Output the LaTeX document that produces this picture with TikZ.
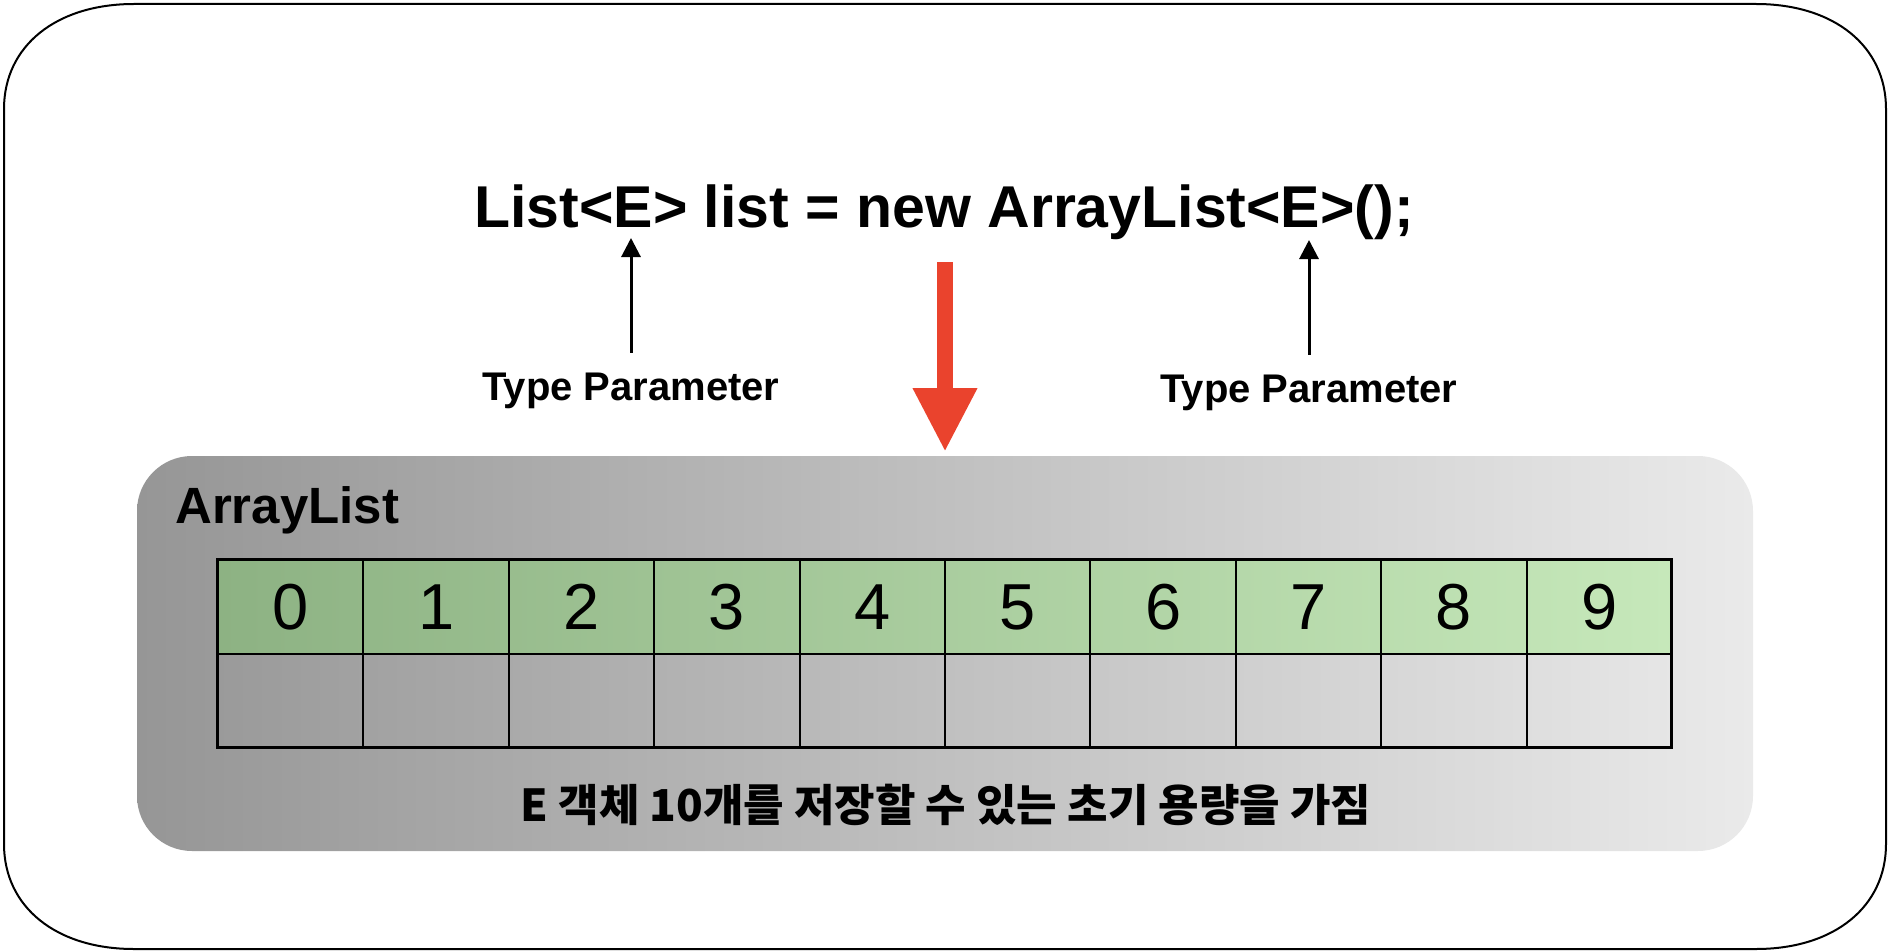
\documentclass[tikz,border=0pt]{standalone}
\usepackage{fontspec}
\setmainfont{Liberation Sans}
\newfontfamily\krfont{Noto Sans CJK KR}
\usetikzlibrary{arrows.meta}
\definecolor{redarrow}{RGB}{234,67,45}
\definecolor{grayL}{RGB}{150,150,150}
\definecolor{grayR}{RGB}{234,234,234}
\definecolor{greenL}{RGB}{141,178,131}
\definecolor{greenR}{RGB}{198,232,186}
\tikzset{
  cellbox/.style={draw=black, line width=2, minimum width=145.4, minimum height=94, inner sep=0, anchor=north west, font=\fontsize{65}{70}\selectfont},
  tplabel/.style={font=\bfseries\fontsize{40}{44}\selectfont, text height=28, text depth=8, inner xsep=0, inner ysep=19, anchor=base},
  tparrow/.style={line width=3, -{Triangle[width=19,length=19]}},
}
\begin{document}
\begin{tikzpicture}[x=1pt,y=-1pt]
\useasboundingbox (0,0) rectangle (1890,952);
% outer frame
\draw[line width=2] (4,109) .. controls (4,46) and (56,4) .. (134,4) -- (1756,4)
  .. controls (1834,4) and (1886,46) .. (1886,109) -- (1886,844)
  .. controls (1886,907) and (1834,949) .. (1756,949) -- (134,949)
  .. controls (56,949) and (4,907) .. (4,844) -- cycle;
% ArrayList box
\node[rectangle, rounded corners=55, left color=grayL, right color=grayR, minimum width=1616, minimum height=395, inner sep=0] (arr) at (945,653.5) {};
\node[anchor=base west, inner sep=0, font=\bfseries\fontsize{51}{56}\selectfont] (arrlbl) at (175,523) {ArrayList};
% green row
\shade[left color=greenL, right color=greenR] (217,559) rectangle (1671,653);
\foreach \i in {0,...,9} {
  \node[cellbox] (c\i) at (217+145.4*\i,559) {\i};
  \node[cellbox] (e\i) at (217+145.4*\i,653) {};
}
\draw[line width=3] (217,559) rectangle (1671,747);
% title
\node[anchor=base, inner sep=0, font=\bfseries\fontsize{59}{66}\selectfont] (title) at (944,228) {List<E> list = new ArrayList<E>();};
% type parameter labels and arrows
\coordinate (e1) at (631,238);
\coordinate (e2) at (1309,240);
\node[tplabel] (tp1) at (631,400) {Type Parameter};
\node[tplabel] (tp2) at (1309,402) {Type Parameter};
\draw[tparrow] (tp1) -- (e1);
\draw[tparrow] (tp2) -- (e2);
% red arrow
\coordinate (rs) at (945,262);
\coordinate (rt) at (945,452);
\draw[redarrow, line width=16, -{Triangle[width=60,length=64]}] (rs) -- (rt);
% korean caption
\node[anchor=base, inner sep=0, font=\krfont\bfseries\fontsize{44}{48}\selectfont] (cap) at (946,821) {E 객체 10개를 저장할 수 있는 초기 용량을 가짐};
\end{tikzpicture}
\end{document}
